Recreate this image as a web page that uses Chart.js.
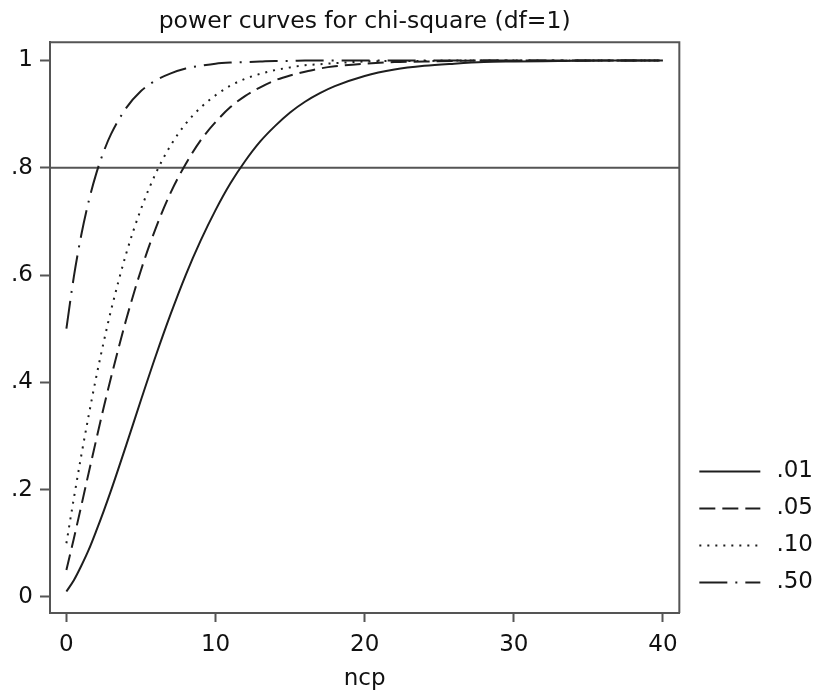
<!DOCTYPE html>
<html>
<head>
<meta charset="utf-8">
<script src="https://cdn.jsdelivr.net/npm/chart.js@4"></script>
<style>
  html, body { margin: 0; padding: 0; background: #fff; }
  #wrap { width: 818px; height: 693px; }
</style>
</head>
<body>
<div id="wrap"><canvas id="chart" width="818" height="693"></canvas></div>
<script>
const ncp = [0, 0.5, 1, 1.5, 2, 2.5, 3, 4, 5, 6, 7, 8, 9, 10, 11, 12, 13, 14, 15, 16, 17, 18, 20, 22, 24, 26, 28, 30, 33, 36, 40];

const power01 = [0.010, 0.031, 0.058, 0.088, 0.123, 0.160, 0.199, 0.282, 0.367, 0.450, 0.528, 0.600, 0.664, 0.721, 0.771, 0.813, 0.849, 0.878, 0.903, 0.923, 0.939, 0.952, 0.971, 0.983, 0.990, 0.994, 0.997, 0.998, 0.999, 1.000, 1.000];
const power05 = [0.050, 0.109, 0.170, 0.232, 0.293, 0.353, 0.410, 0.516, 0.609, 0.688, 0.754, 0.807, 0.851, 0.885, 0.913, 0.934, 0.950, 0.963, 0.972, 0.979, 0.985, 0.989, 0.994, 0.997, 0.998, 0.999, 1.000, 1.000, 1.000, 1.000, 1.000];
const power10 = [0.100, 0.184, 0.264, 0.339, 0.410, 0.475, 0.535, 0.639, 0.723, 0.790, 0.842, 0.882, 0.912, 0.935, 0.953, 0.966, 0.975, 0.982, 0.987, 0.991, 0.993, 0.995, 0.998, 0.999, 0.999, 1.000, 1.000, 1.000, 1.000, 1.000, 1.000];
const power50 = [0.500, 0.597, 0.675, 0.738, 0.789, 0.830, 0.863, 0.911, 0.943, 0.963, 0.976, 0.985, 0.990, 0.994, 0.996, 0.997, 0.998, 0.999, 0.999, 1.000, 1.000, 1.000, 1.000, 1.000, 1.000, 1.000, 1.000, 1.000, 1.000, 1.000, 1.000];

const seriesLabels = ['.01', '.05', '.10', '.50'];
const refLine = 0.8;
const xTicks = [0, 10, 20, 30, 40];
const yTicks = [0, 0.2, 0.4, 0.6, 0.8, 1];
const xMin = -1.1, xMax = 41.1;
const yMin = -0.03, yMax = 1.034;

const INK = '#1e1e1e';
const FRAME = '#555';
const FONT = 'DejaVu Sans';

function pts(ys) {
  return ys.map((y, i) => ({ x: ncp[i], y: y }));
}

function curve(label, ys, dash) {
  return {
    label: label,
    data: pts(ys),
    borderColor: INK,
    backgroundColor: INK,
    borderWidth: 2,
    borderDash: dash,
    pointRadius: 0,
    fill: false,
    cubicInterpolationMode: 'monotone',
  };
}

// top and right edges of the plot box, plus nudge the legend into place
const framePlugin = {
  id: 'frame',
  afterLayout(chart) {
    const lg = chart.legend;
    if (!lg) return;
    lg.left += 6; lg.right += 6;
    lg.top -= 5; lg.bottom -= 5;
  },
  afterDraw(chart) {
    const { ctx, chartArea: a } = chart;
    ctx.save();
    ctx.strokeStyle = FRAME;
    ctx.lineWidth = 2;
    ctx.beginPath();
    ctx.moveTo(a.left, a.top);
    ctx.lineTo(a.right, a.top);
    ctx.lineTo(a.right, a.bottom);
    ctx.stroke();
    ctx.restore();
  },
};

Chart.defaults.font.family = FONT;
Chart.defaults.color = '#111';

new Chart(document.getElementById('chart').getContext('2d'), {
  type: 'line',
  data: {
    datasets: [
      curve(seriesLabels[0], power01, []),
      curve(seriesLabels[1], power05, [16, 7]),
      curve(seriesLabels[2], power10, [2, 6]),
      curve(seriesLabels[3], power50, [28, 8, 2, 8]),
      {
        label: 'ref',
        data: [{ x: xMin, y: refLine }, { x: xMax, y: refLine }],
        borderColor: FRAME,
        borderWidth: 2,
        pointRadius: 0,
        fill: false,
      },
    ],
  },
  options: {
    responsive: false,
    animation: false,
    layout: { padding: { left: 0, right: 1, top: 0, bottom: 0 } },
    plugins: {
      tooltip: { enabled: false },
      title: {
        display: true,
        text: 'power curves for chi-square (df=1)',
        fullSize: false,
        font: { size: 23.5, weight: 'normal' },
        color: '#111',
        padding: { top: 8, bottom: 6 },
      },
      legend: {
        position: 'right',
        align: 'end',
        fullSize: false,
        labels: {
          filter: item => item.datasetIndex < seriesLabels.length,
          generateLabels: chart => Chart.defaults.plugins.legend.labels.generateLabels(chart).map(item => {
            const ds = chart.data.datasets[item.datasetIndex];
            item.text = '\u2009' + item.text;
            item.lineDash = ds.borderDash;
            item.strokeStyle = ds.borderColor;
            item.lineWidth = 2;
            return item;
          }),
          usePointStyle: true,
          pointStyle: 'line',
          pointStyleWidth: 61,
          font: { size: 23 },
          color: '#111',
          padding: 14,
        },
      },
    },
    scales: {
      x: {
        type: 'linear',
        min: xMin,
        max: xMax,
        afterBuildTicks: s => { s.ticks = xTicks.map(v => ({ value: v })); },
        afterFit: s => { s.height = 80; },
        grid: { drawOnChartArea: false, tickLength: 9, tickWidth: 2, color: FRAME },
        border: { color: FRAME, width: 2 },
        ticks: { font: { size: 23 }, color: '#111', padding: 9, maxRotation: 0 },
        title: { display: true, text: 'ncp', font: { size: 23 }, color: '#111', padding: { top: 0, bottom: 0 } },
      },
      y: {
        type: 'linear',
        min: yMin,
        max: yMax,
        afterBuildTicks: s => { s.ticks = yTicks.map(v => ({ value: v })); },
        afterFit: s => { s.width = 50; },
        grid: { drawOnChartArea: false, tickLength: 10, tickWidth: 2, color: FRAME },
        border: { color: FRAME, width: 2 },
        ticks: {
          font: { size: 23 },
          color: '#111',
          padding: 7,
          callback: v => (v === 0 ? '0' : v === 1 ? '1' : String(Math.round(v * 10) / 10).replace('0.', '.')),
        },
      },
    },
  },
  plugins: [framePlugin],
});
</script>
</body>
</html>
